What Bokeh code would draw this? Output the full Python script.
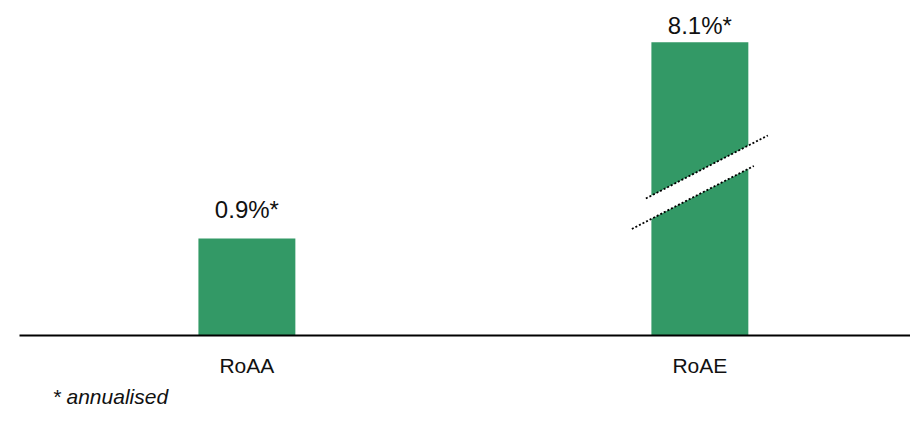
from bokeh.plotting import figure
from bokeh.models import Range1d, FixedTicker, Title, ColumnDataSource
from bokeh.embed import file_html
from bokeh.resources import INLINE
from bokeh.core.properties import value

# ---- data ----
categories = ["RoAA", "RoAE"]
values = [0.9, 8.1]                 # percent, annualised
value_labels = ["0.9%*", "8.1%*"]
footnote = "* annualised"

# ---- style / layout ----
GREEN = "#339966"
FONT = "Liberation Sans"
BAR_W = 0.214
BROKEN_TOP = 2.72           # visual height of the truncated (broken) bar on the axis scale
label_offsets = [-29, -17]  # px above bar top

PX_X = 453.0                # px per x unit
PX_Y = 107.8                # px per y unit

xs = list(range(len(categories)))
tops = [v if v < BROKEN_TOP else BROKEN_TOP for v in values]

p = figure(width=910, height=427, output_backend="svg", toolbar_location=None,
           x_range=Range1d(-0.502, 1.465), y_range=Range1d(0, 3.108),
           min_border_left=19, min_border_right=0, min_border_top=0, min_border_bottom=92)
p.outline_line_color = None
p.xgrid.visible = False
p.ygrid.visible = False
p.yaxis.visible = False
p.background_fill_color = "white"
p.border_fill_color = "white"

src = ColumnDataSource(dict(x=xs, top=tops, lab=value_labels, off=label_offsets))
p.vbar(x="x", top="top", bottom=0, width=BAR_W, source=src, fill_color=GREEN, line_color=None)
p.text(x="x", y="top", text="lab", y_offset="off", source=src, text_align="center",
       text_baseline="alphabetic", text_font=value(FONT), text_font_size="24px", text_color="#111111")

# break mark on the truncated bar
for i, v in enumerate(values):
    if v >= BROKEN_TOP:
        cx = xs[i]
        cy = 1.42
        half_dx = 61 / PX_X
        half_dy = 31.5 / PX_Y
        ux, uy = cx + 7 / PX_X, cy + 15.5 / PX_Y
        lx, ly = cx - 7 / PX_X, cy - 15 / PX_Y
        p.patch([ux - half_dx, ux + half_dx, lx + half_dx, lx - half_dx],
                [uy - half_dy, uy + half_dy, ly + half_dy, ly - half_dy],
                fill_color="white", line_color=None)
        for (bx, by) in [(ux, uy), (lx, ly)]:
            p.line([bx - half_dx, bx + half_dx], [by - half_dy, by + half_dy],
                   line_color="black", line_width=1.8, line_dash="2 2")

ax = p.xaxis[0]
ax.ticker = FixedTicker(ticks=xs)
ax.major_label_overrides = {i: c for i, c in zip(xs, categories)}
ax.axis_line_color = "black"
ax.axis_line_width = 2
ax.major_tick_line_color = None
ax.minor_tick_line_color = None
ax.major_label_standoff = 12
ax.major_label_text_font = FONT
ax.major_label_text_font_size = "21px"
ax.major_label_text_color = "#111111"

note = Title(text=footnote, align="left", offset=33, standoff=6, text_font=FONT,
             text_font_size="21px", text_font_style="italic", text_color="#111111")
p.add_layout(note, "below")

open("out.html", "w").write(file_html(p, INLINE))
